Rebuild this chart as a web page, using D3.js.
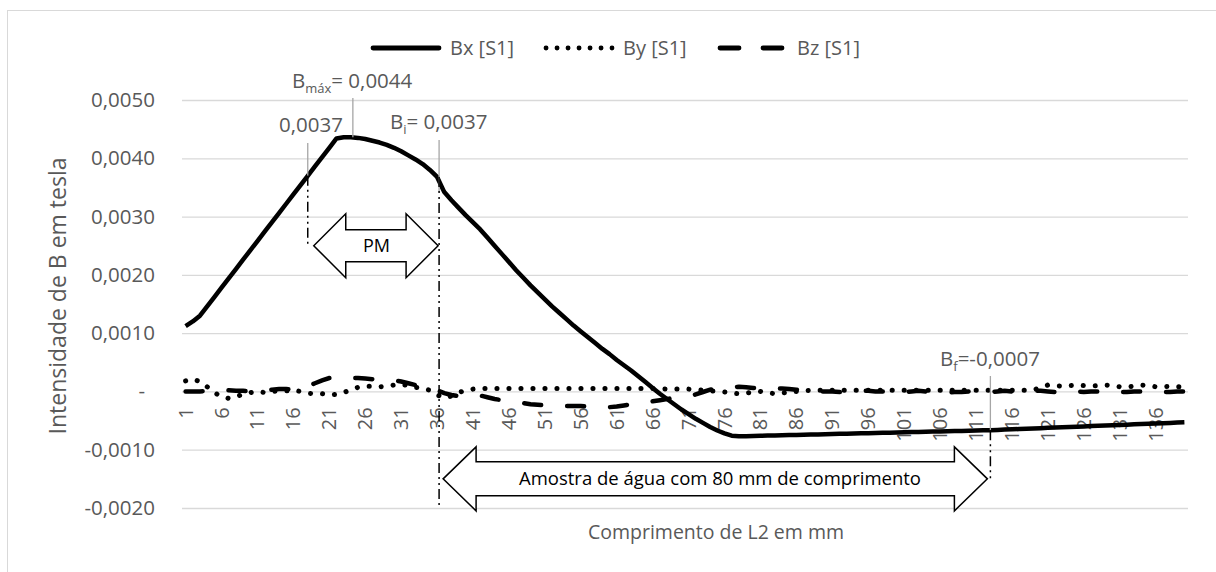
<!DOCTYPE html>
<html lang="pt">
<head>
    <meta charset="UTF-8">
    <title>Intensidade de B em tesla</title>
    <style>
        body {
            margin: 0;
            background-color: #ffffff;
        }
        svg text {
            font-family: "Open Sans", sans-serif;
            fill: #595959;
        }
    </style>
    <script src="https://d3js.org/d3.v7.min.js"></script>
</head>
<body>

<svg id="chart" width="1216" height="572"></svg>

<script>
    // Positions along L2 (mm), one sample per mm
    const categories = d3.range(1, 141);

    // Bx [S1]
    const bx = [
        0.00112, 0.00120, 0.00130, 0.00146, 0.00162, 0.00178, 0.00194, 0.00210, 0.00226, 0.00242,
        0.00258, 0.00274, 0.00290, 0.00306, 0.00322, 0.00338, 0.00354, 0.00370, 0.00386, 0.00402,
        0.00418, 0.00434, 0.00436, 0.00436, 0.00435, 0.00433, 0.00430, 0.00427, 0.00423, 0.00418,
        0.00412, 0.00405, 0.00398, 0.00390, 0.00380, 0.00368, 0.00342, 0.00328, 0.00315, 0.00302,
        0.00290, 0.00278, 0.00264, 0.00250, 0.00236, 0.00222, 0.00208, 0.00195, 0.00182, 0.00170,
        0.00158, 0.00146, 0.00135, 0.00124, 0.00113, 0.00103, 0.00093, 0.00083, 0.00073, 0.00064,
        0.00054, 0.00045, 0.00036, 0.00026, 0.00016, 0.00006, -0.00004, -0.00013, -0.00022, -0.00031,
        -0.00039, -0.00047, -0.00054, -0.00061, -0.00067, -0.00072, -0.00076, -0.00077, -0.000767, -0.000764,
        -0.000761, -0.000758, -0.000755, -0.000752, -0.000749, -0.000746, -0.000743, -0.000740, -0.000737, -0.000734,
        -0.000731, -0.000728, -0.000725, -0.000722, -0.000719, -0.000716, -0.000713, -0.000710, -0.000707, -0.000704,
        -0.000701, -0.000698, -0.000695, -0.000692, -0.000689, -0.000686, -0.000683, -0.000680, -0.000677, -0.000674,
        -0.000671, -0.000668, -0.000665, -0.000660, -0.000655, -0.000650, -0.000645, -0.000640, -0.000635, -0.000630,
        -0.000625, -0.000620, -0.000615, -0.000610, -0.000605, -0.000600, -0.000595, -0.000590, -0.000585, -0.000580,
        -0.000575, -0.000570, -0.000565, -0.000560, -0.000555, -0.000550, -0.000545, -0.000540, -0.000535, -0.000530
    ];

    // By [S1]
    const by = [
        0.00018, 0.00021, 0.00017, 0.00008, -0.00002, -0.00009, -0.00012, -0.00009, -0.00005, -0.00002,
        0.00000, -0.00002, 0.00000, 0.00001, 0.00001, 0.00002, 0.00000, -0.00003, -0.00004, -0.00004,
        -0.00006, -0.00005, -0.00002, 0.00003, 0.00007, 0.00009, 0.00009, 0.00008, 0.00009, 0.00011,
        0.00012, 0.00010, 0.00007, 0.00005, 0.00002, -0.00006, -0.00011, -0.00008, -0.00002, 0.00002,
        0.00004, 0.00005, 0.00005, 0.00005, 0.00005, 0.00005, 0.00005, 0.00005, 0.00005, 0.00005,
        0.00005, 0.00005, 0.00005, 0.00005, 0.00005, 0.00005, 0.00005, 0.00005, 0.00005, 0.00005,
        0.00005, 0.00005, 0.00005, 0.00005, 0.00005, 0.00005, 0.00005, 0.00004, 0.00004, 0.00004,
        0.00004, 0.00003, 0.00002, 0.00001, 0.00000, -0.00001, -0.00003, -0.00004, -0.00003, -0.00001,
        0.00000, -0.00002, -0.00004, -0.00003, -0.00001, 0.00000, 0.00001, 0.00002, 0.00002, 0.00002,
        0.00002, 0.00002, 0.00002, 0.00002, 0.00002, 0.00002, 0.00002, 0.00002, 0.00002, 0.00002,
        0.00002, 0.00002, 0.00002, 0.00002, 0.00002, 0.00002, 0.00002, 0.00002, 0.00002, 0.00002,
        0.00002, 0.00002, 0.00002, 0.00002, 0.00002, 0.00002, 0.00002, 0.00002, 0.00003, 0.00006,
        0.00011, 0.00010, 0.00009, 0.00010, 0.00011, 0.00010, 0.00009, 0.00010, 0.00011, 0.00010,
        0.00008, 0.00008, 0.00009, 0.00011, 0.00010, 0.00008, 0.00008, 0.00009, 0.00008, 0.00008
    ];

    // Bz [S1]
    const bz = [
        0.00000, 0.00000, 0.00000, 0.00001, 0.00002, 0.00003, 0.00002, 0.00001, 0.00001, 0.00000,
        0.00001, 0.00002, 0.00003, 0.00004, 0.00004, 0.00003, 0.00005, 0.00009, 0.00014, 0.00019,
        0.00023, 0.00024, 0.00024, 0.00023, 0.00023, 0.00022, 0.00021, 0.00020, 0.00019, 0.00019,
        0.00017, 0.00014, 0.00011, 0.00008, 0.00005, 0.00002, -0.00003, -0.00006, -0.00008, -0.00006,
        -0.00005, -0.00007, -0.00010, -0.00013, -0.00015, -0.00017, -0.00019, -0.00020, -0.00022, -0.00023,
        -0.00024, -0.00024, -0.00025, -0.00025, -0.00025, -0.00025, -0.00026, -0.00026, -0.00027, -0.00027,
        -0.00026, -0.00024, -0.00022, -0.00021, -0.00019, -0.00017, -0.00015, -0.00013, -0.00011, -0.00010,
        -0.00009, -0.00005, -0.00001, 0.00003, 0.00005, 0.00006, 0.00007, 0.00008, 0.00007, 0.00006,
        0.00005, 0.00005, 0.00005, 0.00005, 0.00004, 0.00003, 0.00002, 0.00001, 0.00000, 0.00000,
        0.00000, -0.00001, 0.00000, 0.00001, 0.00001, 0.00001, 0.00000, 0.00000, 0.00000, 0.00000,
        -0.00001, 0.00000, 0.00001, 0.00000, -0.00001, -0.00002, -0.00002, -0.00001, -0.00001, 0.00000,
        0.00000, -0.00001, -0.00001, 0.00000, 0.00001, 0.00000, -0.00001, 0.00000, 0.00001, 0.00001,
        0.00000, -0.00001, 0.00000, 0.00001, 0.00000, -0.00001, 0.00000, 0.00000, 0.00001, 0.00000,
        -0.00001, -0.00001, 0.00000, 0.00000, 0.00001, 0.00000, -0.00001, -0.00001, 0.00000, 0.00000
    ];

    const seriesNames = ["Bx [S1]", "By [S1]", "Bz [S1]"];
    const yTicks = [-0.002, -0.001, 0, 0.001, 0.002, 0.003, 0.004, 0.005];
    const xTicks = categories.filter(c => (c - 1) % 5 === 0);

    // Annotation anchors (positions in mm)
    const pmRange = [18, 36];       // permanent magnet
    const sampleRange = [36, 113];  // water sample
    const peakAt = 24;

    const svg = d3.select("#chart");
    const plot = { left: 182, right: 1188, top: 100, bottom: 508 };

    // Chart border (continues past the right and bottom edge)
    svg.append("rect")
        .attr("x", 7.5).attr("y", 10.5)
        .attr("width", 1240).attr("height", 600)
        .attr("fill", "none")
        .attr("stroke", "#d9d9d9")
        .attr("stroke-width", 1);

    const x = d3.scaleBand()
        .domain(categories)
        .range([plot.left, plot.right]);
    const xc = c => x(c) + x.bandwidth() / 2;

    const y = d3.scaleLinear()
        .domain([-0.002, 0.005])
        .range([plot.bottom, plot.top]);

    // Excel accounting style: comma decimal, hyphen for negatives, "-" for zero
    const fmt = v => v === 0 ? "-" : d3.format(".4f")(v).replace(".", ",").replace("\u2212", "-");

    // Y axis with gridlines
    const yAxis = svg.append("g")
        .attr("transform", `translate(${plot.left},0)`)
        .call(d3.axisLeft(y).tickValues(yTicks).tickFormat(fmt)
            .tickSize(-(plot.right - plot.left)).tickPadding(27));
    yAxis.select(".domain").remove();
    yAxis.selectAll(".tick line").attr("stroke", "#d9d9d9").attr("stroke-width", 1.3);
    yAxis.selectAll(".tick text")
        .attr("font-size", 20.5)
        .attr("font-family", "Open Sans")
        .style("fill", "#595959")
        .attr("dx", d => d === 0 ? -10 : 0);

    // X axis labels on the zero line, rotated
    const xAxis = svg.append("g")
        .attr("transform", `translate(0,${y(0)})`)
        .call(d3.axisBottom(x).tickValues(xTicks).tickSize(0).tickPadding(0));
    xAxis.select(".domain").remove();
    xAxis.selectAll(".tick text")
        .attr("font-size", 20)
        .attr("font-family", "Open Sans")
        .style("fill", "#595959")
        .attr("text-anchor", "end")
        .attr("y", 0)
        .attr("dy", "0.35em")
        .attr("transform", "translate(0,16) rotate(-90)");

    // Series
    const line = values => d3.line()
        .x((d, i) => xc(categories[i]))
        .y(d => y(d))(values);

    svg.append("path")
        .attr("d", line(bx))
        .attr("fill", "none")
        .attr("stroke", "#000")
        .attr("stroke-width", 4.5)
        .attr("stroke-linejoin", "round");

    svg.append("path")
        .attr("d", line(by))
        .attr("fill", "none")
        .attr("stroke", "#000")
        .attr("stroke-width", 5)
        .attr("stroke-linecap", "round")
        .attr("stroke-dasharray", "0.1,11.9");

    svg.append("path")
        .attr("d", line(bz))
        .attr("fill", "none")
        .attr("stroke", "#000")
        .attr("stroke-width", 4.5)
        .attr("stroke-linecap", "round")
        .attr("stroke-dasharray", "17,26");

    // Legend
    const legend = svg.append("g");
    const legendItems = [
        { name: seriesNames[0], x0: 373, dash: null },
        { name: seriesNames[1], x0: 546, dash: "0.1,10.9" },
        { name: seriesNames[2], x0: 720, dash: "19,24" }
    ];
    legendItems.forEach(it => {
        const l = legend.append("line")
            .attr("x1", it.x0).attr("x2", it.x0 + 66)
            .attr("y1", 48).attr("y2", 48)
            .attr("stroke", "#000").attr("stroke-width", 4.8)
            .attr("stroke-linecap", "round");
        if (it.dash) l.attr("stroke-dasharray", it.dash);
        legend.append("text")
            .attr("x", it.x0 + 77).attr("y", 55)
            .attr("font-size", 20)
            .text(it.name);
    });

    // Axis titles
    svg.append("text")
        .attr("transform", "translate(66,296) rotate(-90)")
        .attr("text-anchor", "middle")
        .attr("font-size", 23)
        .text("Intensidade de B em tesla");

    svg.append("text")
        .attr("x", 716).attr("y", 539)
        .attr("text-anchor", "middle")
        .attr("font-size", 19.5)
        .text("Comprimento de L2 em mm");

    // Annotations
    const ann = svg.append("g");
    const grey = "#a6a6a6";
    const dashDot = "10,4,2,4,2,4";

    // leader lines
    ann.append("line")
        .attr("x1", xc(peakAt) + 2).attr("x2", xc(peakAt) + 2)
        .attr("y1", 98).attr("y2", y(bx[peakAt - 1]))
        .attr("stroke", grey).attr("stroke-width", 1.3);
    ann.append("line")
        .attr("x1", xc(pmRange[0])).attr("x2", xc(pmRange[0]))
        .attr("y1", 143).attr("y2", y(bx[pmRange[0] - 1]))
        .attr("stroke", grey).attr("stroke-width", 1.3);
    ann.append("line")
        .attr("x1", xc(pmRange[1]) + 2).attr("x2", xc(pmRange[1]) + 2)
        .attr("y1", 140).attr("y2", y(bx[pmRange[1]]))
        .attr("stroke", grey).attr("stroke-width", 1.3);
    ann.append("line")
        .attr("x1", xc(sampleRange[1])).attr("x2", xc(sampleRange[1]))
        .attr("y1", 376).attr("y2", y(bx[sampleRange[1] - 1]))
        .attr("stroke", grey).attr("stroke-width", 1.3);

    // dash-dot guides
    ann.append("line")
        .attr("x1", xc(pmRange[0])).attr("x2", xc(pmRange[0]))
        .attr("y1", y(bx[pmRange[0] - 1])).attr("y2", y(0.0025) + 2)
        .attr("stroke", "#000").attr("stroke-width", 1.5)
        .attr("stroke-dasharray", dashDot);
    ann.append("line")
        .attr("x1", xc(pmRange[1]) + 2).attr("x2", xc(pmRange[1]) + 2)
        .attr("y1", y(bx[pmRange[1] - 1])).attr("y2", y(-0.002))
        .attr("stroke", "#000").attr("stroke-width", 1.5)
        .attr("stroke-dasharray", dashDot);
    ann.append("line")
        .attr("x1", xc(sampleRange[1])).attr("x2", xc(sampleRange[1]))
        .attr("y1", y(bx[sampleRange[1] - 1])).attr("y2", y(-0.0015))
        .attr("stroke", "#000").attr("stroke-width", 1.5)
        .attr("stroke-dasharray", dashDot);

    // double-headed block arrows
    function blockArrow(x0, x1, yMid, head, halfH, halfS) {
        const p = [
            [x0, yMid], [x0 + head, yMid - halfH], [x0 + head, yMid - halfS],
            [x1 - head, yMid - halfS], [x1 - head, yMid - halfH], [x1, yMid],
            [x1 - head, yMid + halfH], [x1 - head, yMid + halfS],
            [x0 + head, yMid + halfS], [x0 + head, yMid + halfH]
        ];
        ann.append("polygon")
            .attr("points", p.map(d => d.join(",")).join(" "))
            .attr("fill", "#fff")
            .attr("stroke", "#000")
            .attr("stroke-width", 1.5)
            .attr("stroke-linejoin", "miter");
    }
    blockArrow(xc(pmRange[0]) + 6, xc(pmRange[1]) + 1, y(0.0025), 32, 32, 16);
    blockArrow(xc(sampleRange[0]) + 6, xc(sampleRange[1]) - 3, y(-0.0015), 33, 32, 17);

    ann.append("text")
        .attr("x", (xc(pmRange[0]) + xc(pmRange[1])) / 2 + 4).attr("y", y(0.0025) + 6)
        .attr("text-anchor", "middle")
        .attr("font-size", 18)
        .style("fill", "#000")
        .text("PM");
    ann.append("text")
        .attr("x", 720).attr("y", y(-0.0015) + 6)
        .attr("text-anchor", "middle")
        .attr("font-size", 18.5)
        .style("fill", "#000")
        .text("Amostra de água com 80 mm de comprimento");

    // value labels
    function subLabel(px, py, sub, rest) {
        const t = ann.append("text").attr("x", px).attr("y", py).attr("font-size", 20.5);
        t.append("tspan").text("B");
        t.append("tspan").attr("font-size", 13).attr("dy", 5).text(sub);
        t.append("tspan").attr("dy", -5).text(rest);
    }
    subLabel(292, 88, "máx", "= 0,0044");
    subLabel(390, 129, "i", "= 0,0037");
    subLabel(940, 366, "f", "=-0,0007");
    ann.append("text")
        .attr("x", 279).attr("y", 132)
        .attr("font-size", 20.5)
        .text("0,0037");
</script>

</body>
</html>
